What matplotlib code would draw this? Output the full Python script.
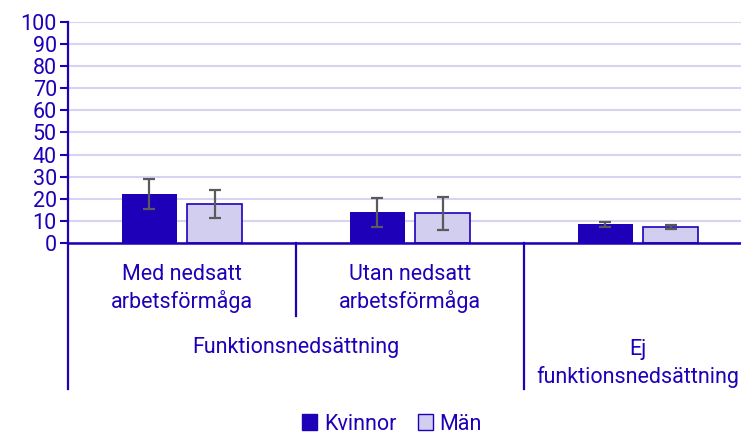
import numpy as np
import matplotlib.pyplot as plt
from matplotlib.patches import Patch
from matplotlib.transforms import blended_transform_factory

plt.rcParams["font.family"] = ["Roboto", "DejaVu Sans"]

# data
groups = ["Med nedsatt\narbetsförmåga", "Utan nedsatt\narbetsförmåga", ""]
kvinnor = [22.3, 13.9, 8.5]
kvinnor_lo = [15.4, 7.1, 7.4]
kvinnor_hi = [28.9, 20.5, 9.5]
man = [17.6, 13.6, 7.3]
man_lo = [11.3, 6.0, 6.3]
man_hi = [23.8, 20.8, 8.3]
yticks = list(range(0, 101, 10))

DARK = "#1E00B9"
LIGHT = "#D2CEF0"
GRID = "#D6D4F2"
ERR = "#5A5A5A"
FS = 15.5

fig = plt.figure(figsize=(7.41, 4.34), dpi=100)
# the category axis runs a little past the right edge of the picture
ax = fig.add_axes([68 / 741, 1 - 243 / 434, 684 / 741, 221 / 434])

x = np.arange(len(groups))
w = 0.24
off = 0.143
k = np.array(kvinnor)
m = np.array(man)
k_err = [k - np.array(kvinnor_lo), np.array(kvinnor_hi) - k]
m_err = [m - np.array(man_lo), np.array(man_hi) - m]

ax.bar(x - off, k, w, color=DARK, zorder=3)
ax.bar(x + off, m, w, color=LIGHT, edgecolor=DARK, linewidth=1.2, zorder=3)
ax.errorbar(x - off, k, yerr=k_err, fmt="none", ecolor=ERR, elinewidth=1.6,
            capsize=4.5, capthick=1.6, zorder=4)
ax.errorbar(x + off, m, yerr=m_err, fmt="none", ecolor=ERR, elinewidth=1.6,
            capsize=4.5, capthick=1.6, zorder=4)

ax.set_xlim(-0.5, 2.5)
ax.set_ylim(0, 100)
ax.set_yticks(yticks)
ax.set_xticks([])
ax.tick_params(axis="y", colors=DARK, labelcolor=DARK, labelsize=FS,
               length=6, width=1.5, pad=2)
ax.grid(axis="y", color=GRID, linewidth=1.5, zorder=0)
for s in ["top", "right"]:
    ax.spines[s].set_visible(False)
ax.spines["left"].set_color(DARK)
ax.spines["left"].set_linewidth(1.6)
ax.spines["bottom"].set_color(DARK)
ax.spines["bottom"].set_linewidth(1.8)
ax.spines["bottom"].set_zorder(5)

# two-level category axis below the plot
h = 221.0
tr = blended_transform_factory(ax.transData, ax.transAxes)


def ypx(py):
    return -(py - 243) / h


for xv, bottom in [(-0.5, 389), (0.5, 316), (1.5, 389)]:
    ax.plot([xv, xv], [0, ypx(bottom)], transform=tr, color=DARK,
            linewidth=1.6, clip_on=False)


def label(xv, lines, baselines):
    for txt, b in zip(lines, baselines):
        ax.text(xv, ypx(b), txt, transform=tr, ha="center", va="baseline",
                color=DARK, fontsize=FS)


label(0, groups[0].split("\n"), [280, 308])
label(1, groups[1].split("\n"), [280, 308])
label(0.5, ["Funktionsnedsättning"], [353])
label(2, ["Ej", "funktionsnedsättning"], [355, 383])

handles = [Patch(facecolor=DARK, edgecolor=DARK, label="Kvinnor"),
           Patch(facecolor=LIGHT, edgecolor=DARK, label="Män")]
leg = fig.legend(handles=handles, loc="center", ncol=2,
                 bbox_to_anchor=(392 / 741, 1 - 424 / 434), frameon=False,
                 fontsize=FS, handlelength=0.7, handleheight=0.7,
                 handletextpad=0.3, columnspacing=1.0)
for t in leg.get_texts():
    t.set_color(DARK)

fig.savefig("out.png", dpi=100)
